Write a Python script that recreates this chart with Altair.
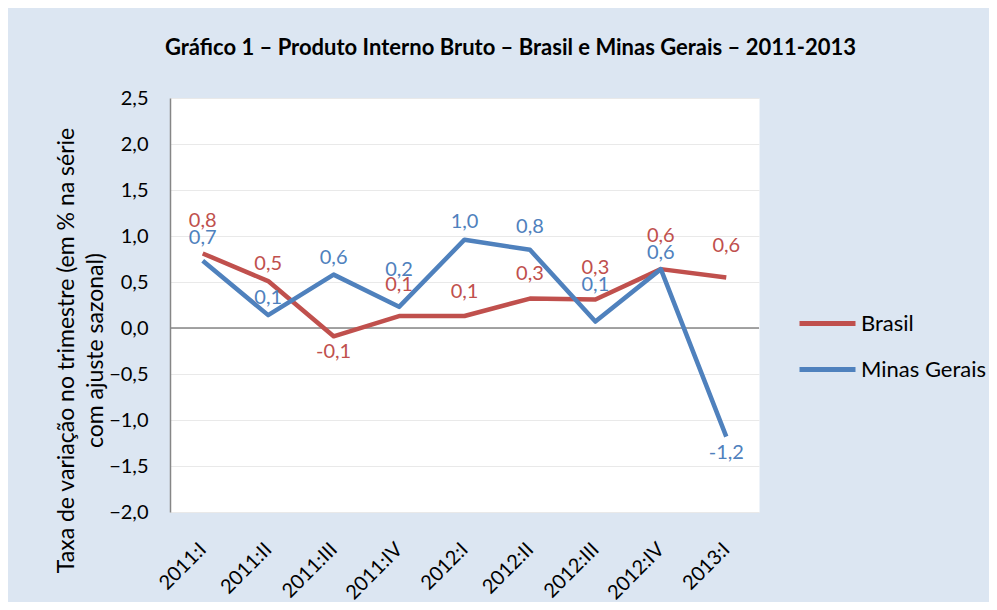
import altair as alt
import pandas as pd

# ---- data ----
trimestres = ["2011:I", "2011:II", "2011:III", "2011:IV", "2012:I",
              "2012:II", "2012:III", "2012:IV", "2013:I"]
brasil = [0.81, 0.51, -0.09, 0.13, 0.13, 0.32, 0.31, 0.64, 0.55]
minas = [0.73, 0.14, 0.58, 0.23, 0.96, 0.85, 0.07, 0.64, -1.18]
brasil_rotulos = ["0,8", "0,5", "-0,1", "0,1", "0,1", "0,3", "0,3", "0,6", "0,6"]
minas_rotulos = ["0,7", "0,1", "0,6", "0,2", "1,0", "0,8", "0,1", "0,6", "-1,2"]
series = ["Brasil", "Minas Gerais"]
cores = ["#c0504d", "#4f81bd"]

# pixel offsets of the data labels (label placement style)
brasil_dy = [-32, -17, 16, -31, -24, -25, -31, -33, -31]
minas_dy = [-23, -17, -17, -37, -18, -23, -37, -16, 16]

FONT = "Lato"

rows = []
for serie, vals, rots, dys in [("Brasil", brasil, brasil_rotulos, brasil_dy),
                               ("Minas Gerais", minas, minas_rotulos, minas_dy)]:
    for q, v, r, d in zip(trimestres, vals, rots, dys):
        rows.append({"trimestre": q, "serie": serie, "valor": v, "rotulo": r, "dy": d})
df = pd.DataFrame(rows)

x_enc = alt.X("trimestre:O", sort=trimestres,
              scale=alt.Scale(type="point", padding=0.5),
              axis=alt.Axis(title=None, labelAngle=-45, labelAlign="right",
                            labelBaseline="middle", domain=False, ticks=False,
                            labelPadding=34, labelFont=FONT, labelFontSize=20,
                            labelColor="#000000", grid=False))
y_enc = alt.Y("valor:Q",
              scale=alt.Scale(domain=[-2.0, 2.5], nice=False, zero=False),
              axis=alt.Axis(values=[-2.0, -1.5, -1.0, -0.5, 0.0, 0.5, 1.0, 1.5, 2.0, 2.5],
                            labelExpr="replace(format(datum.value, '.1f'), '.', ',')",
                            title=["Taxa de variação no trimestre (em % na série",
                                   "com ajuste sazonal)"],
                            titleFont=FONT, titleFontSize=23, titleFontWeight="normal",
                            titleColor="#000000", titleLineHeight=29, titleY=252,
                            titlePadding=1,
                            labelFont=FONT, labelFontSize=20, labelColor="#000000",
                            labelPadding=22, ticks=False, domain=True,
                            domainColor="#868686", domainWidth=1.5,
                            grid=True, gridColor="#e9e9e9", gridWidth=1.2))
color_enc = alt.Color("serie:N",
                      scale=alt.Scale(domain=series, range=cores),
                      legend=alt.Legend(title=None, orient="none", legendX=627, legendY=195,
                                        symbolType="stroke", symbolSize=3136,
                                        symbolStrokeWidth=5, labelFont=FONT,
                                        labelFontSize=22, labelColor="#000000",
                                        labelOffset=3, rowPadding=4))

zero = alt.Chart(pd.DataFrame({"z": [0.0]})).mark_rule(
    color="#868686", strokeWidth=1.5).encode(y=alt.Y("z:Q"))

lines = alt.Chart(df).mark_line(strokeWidth=4.5, strokeJoin="round").encode(
    x=x_enc, y=y_enc, color=color_enc)

label_layers = []
for d in sorted(set(brasil_dy + minas_dy)):
    label_layers.append(
        alt.Chart(df).transform_filter(alt.datum.dy == d).mark_text(
            dy=d, font=FONT, fontSize=20, baseline="middle").encode(
            x=alt.X("trimestre:O", sort=trimestres),
            y=alt.Y("valor:Q"),
            text="rotulo:N",
            color=alt.Color("serie:N", legend=None)))

chart = alt.layer(zero, lines, *label_layers).properties(
    width=589, height=414,
    title=alt.TitleParams(
        "Gráfico 1 – Produto Interno Bruto – Brasil e Minas Gerais – 2011-2013",
        font=FONT, fontSize=22, fontWeight="bold", color="#000000",
        anchor="middle", frame="group", dx=46, offset=28),
    autosize=alt.AutoSizeParams(type="none"),
    padding={"left": 162, "top": 90, "right": 230, "bottom": 90},
    background="#dce6f2",
).configure_view(fill="white", stroke="transparent")

chart.save("out.html", embed_options={"renderer": "svg", "actions": False})
